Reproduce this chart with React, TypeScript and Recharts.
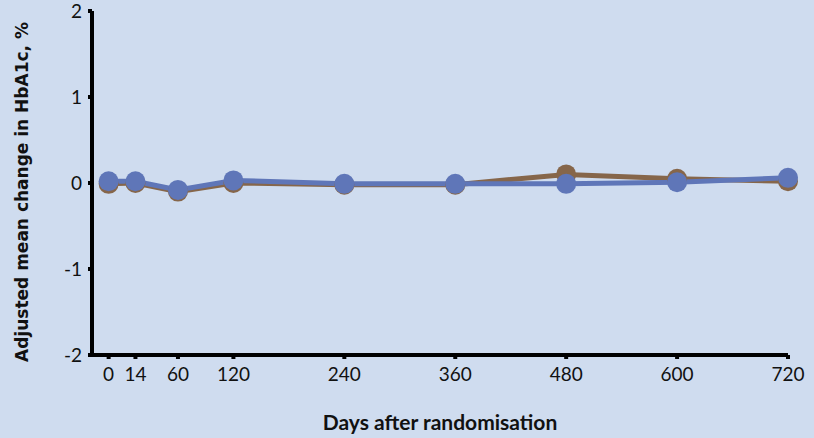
import { LineChart, Line, XAxis, YAxis, Label } from 'recharts';

// x position of each visit on the day scale (the "0" visit sits left of 0 in the original)
const dayPositions = [-15, 14, 60, 120, 240, 360, 480, 600, 720];
const dayLabels = ['0', '14', '60', '120', '240', '360', '480', '600', '720'];

const brownSeries = [-0.01, 0.0, -0.1, 0.0, -0.02, -0.02, 0.1, 0.05, 0.02];
const blueSeries = [0.02, 0.02, -0.08, 0.03, -0.01, -0.01, -0.01, 0.01, 0.06];

const yTicks = [-2, -1, 0, 1, 2];

const BG = '#cfdcef';
const BROWN = '#86664a';
const BLUE = '#5f76b8';

const data = dayPositions.map((d, i) => ({
  day: d,
  brown: brownSeries[i],
  blue: blueSeries[i],
}));

const tickFont = { fontFamily: 'Lato, "Open Sans", sans-serif', fontSize: 19, fill: '#111' };

// eslint-disable-next-line @typescript-eslint/no-explicit-any
const YTitle = ({ viewBox }: { viewBox?: any }) => {
  if (!viewBox) return null;
  const x = viewBox.x + 22;
  const y = viewBox.y + viewBox.height / 2 + 9;
  return (
    <text x={x} y={y} transform={`rotate(-90, ${x}, ${y})`} textAnchor="middle" dominantBaseline="central"
      fontFamily='"DejaVu Sans", sans-serif' fontSize={17} fontWeight={700} fill="#111">
      Adjusted mean change in HbA1c, %
    </text>
  );
};

export default function App() {
  return (
    <div style={{ width: 814, height: 438, background: BG }}>
      <style>{`body{margin:0;background:${BG};}`}</style>
      <LineChart
        width={814}
        height={438}
        data={data}
        margin={{ top: 11, right: 26, bottom: 43, left: 0 }}
      >
        <XAxis
          dataKey="day"
          type="number"
          domain={[-33, 720]}
          ticks={dayPositions}
          tickFormatter={(v: number) => dayLabels[dayPositions.indexOf(v)] ?? ''}
          axisLine={{ stroke: '#000', strokeWidth: 4 }}
          tickLine={{ stroke: '#000', strokeWidth: 4 }}
          tickSize={4}
          tickMargin={9}
          tick={tickFont}
          height={40}
          interval={0}
        >
          <Label
            value="Days after randomisation"
            position="bottom"
            offset={20}
            style={{ fontFamily: 'Lato, sans-serif', fontSize: 21, fontWeight: 700, fill: '#111' }}
          />
        </XAxis>
        <YAxis
          type="number"
          domain={[-2, 2]}
          ticks={yTicks}
          width={92}
          axisLine={{ stroke: '#000', strokeWidth: 4 }}
          tickLine={{ stroke: '#000', strokeWidth: 4 }}
          tickSize={4}
          tickMargin={6}
          tick={tickFont}
          interval={0}
        >
          <Label content={<YTitle />} />
        </YAxis>
        <Line
          dataKey="brown"
          stroke={BROWN}
          strokeWidth={5}
          dot={{ r: 10, fill: BROWN, stroke: 'none' }}
          isAnimationActive={false}
        />
        <Line
          dataKey="blue"
          stroke={BLUE}
          strokeWidth={5}
          dot={{ r: 10, fill: BLUE, stroke: 'none' }}
          isAnimationActive={false}
        />
      </LineChart>
    </div>
  );
}
